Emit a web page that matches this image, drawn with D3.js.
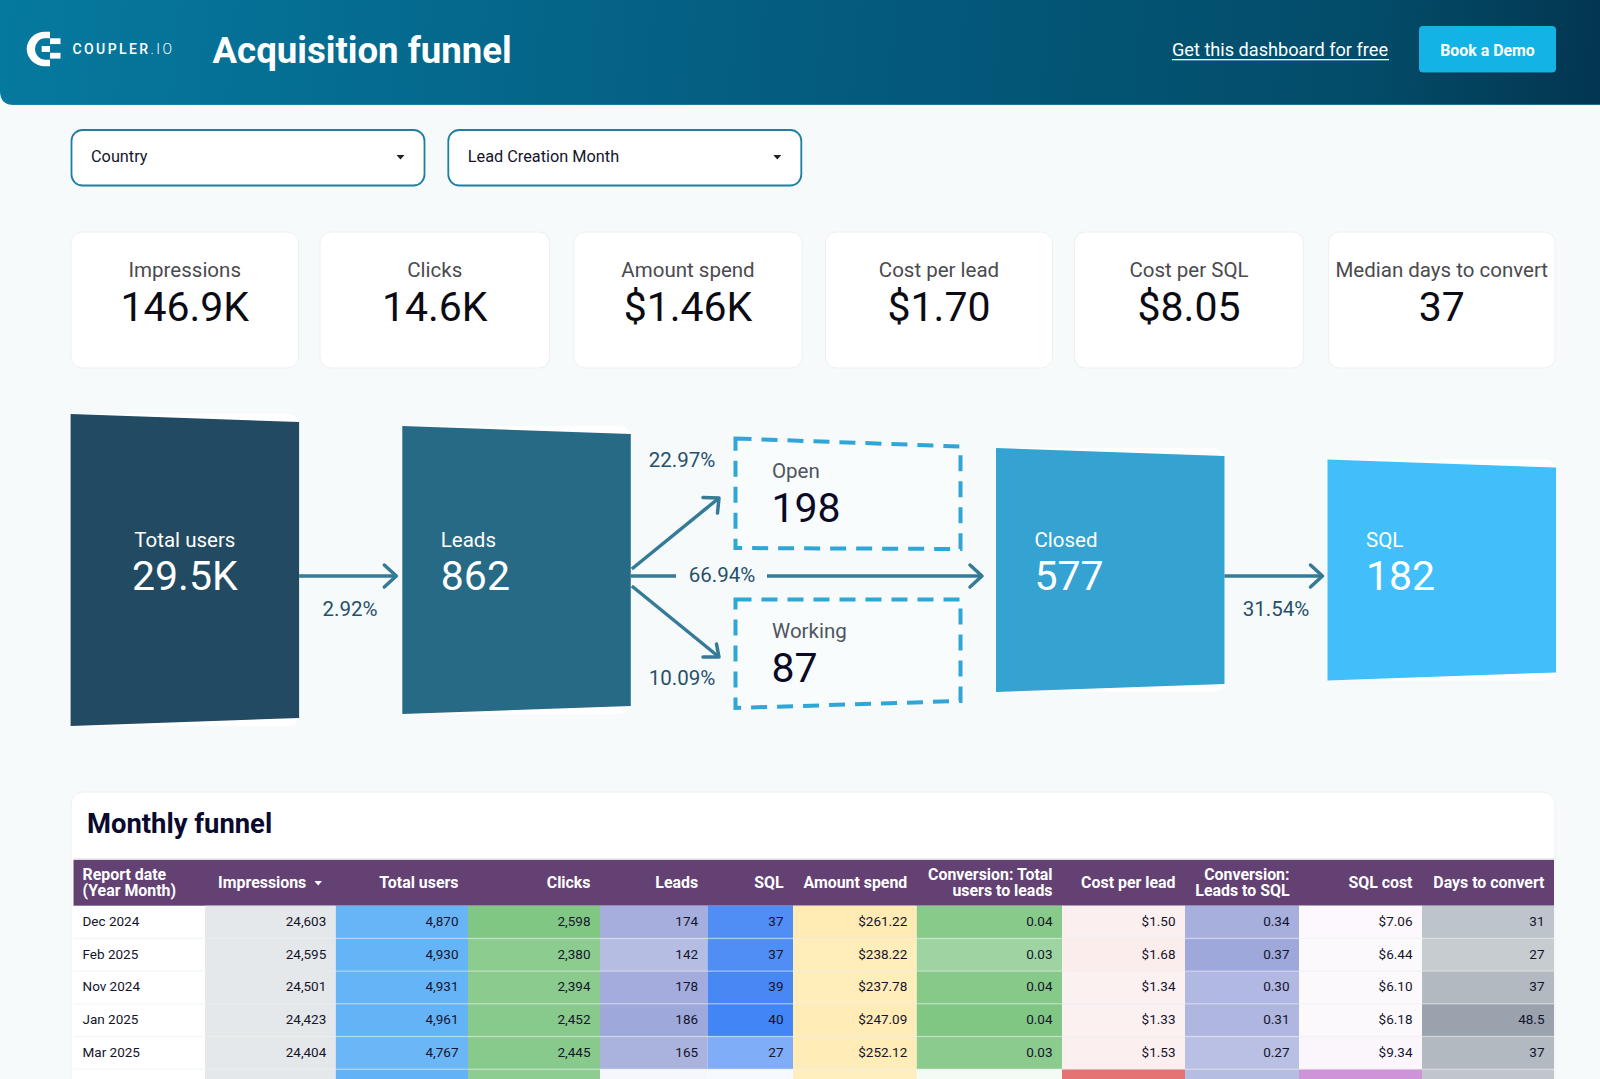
<!DOCTYPE html>
<html>
<head>
<meta charset="utf-8">
<title>Acquisition funnel</title>
<script src="https://cdn.jsdelivr.net/npm/d3@7"></script>
<style>
    html, body { margin: 0; padding: 0; background: #f7fafb; overflow: hidden; }
    svg { display: block; font-family: Roboto, sans-serif; }
</style>
</head>
<body>
<div id="chart"></div>
<script>
// KPI cards
var kpiLabels = ["Impressions", "Clicks", "Amount spend", "Cost per lead", "Cost per SQL", "Median days to convert"];
var kpiValues = ["146.9K", "14.6K", "$1.46K", "$1.70", "$8.05", "37"];

// funnel
var stageNames = ["Total users", "Leads", "Closed", "SQL"];
var stageValues = ["29.5K", "862", "577", "182"];
var branchNames = ["Open", "Working"];
var branchValues = ["198", "87"];
var stepRates = ["2.92%", "31.54%"];
var branchRates = ["22.97%", "66.94%", "10.09%"];

// monthly table, the last row only shows its cell colours at the page edge
var reportDates = ["Dec 2024", "Feb 2025", "Nov 2024", "Jan 2025", "Mar 2025", "Apr 2025"];
var impressions = [24603, 24595, 24501, 24423, 24404, 24374];
var totalUsers = [4870, 4930, 4931, 4961, 4767, 5041];
var clicks = [2598, 2380, 2394, 2452, 2445, 2331];
var leads = [174, 142, 178, 186, 165, 17];
var sql = [37, 37, 39, 40, 27, 2];
var amountSpend = [261.22, 238.22, 237.78, 247.09, 252.12, 223.2];
var convUsersLeads = [0.0357, 0.0288, 0.0361, 0.0375, 0.0346, 0.0034];
var costPerLead = [1.50, 1.68, 1.34, 1.33, 1.53, 13.13];
var convLeadsSql = [0.34, 0.37, 0.30, 0.31, 0.27, 0.28];
var sqlCost = [7.06, 6.44, 6.10, 6.18, 9.34, 111.6];
var daysToConvert = [31, 27, 37, 48.5, 37, 30];

var width = 1600, height = 1079;
var ink = "#14142b";

var svg = d3.select("#chart").append("svg")
    .attr("width", width)
    .attr("height", height)
    .attr("viewBox", "0 0 " + width + " " + height);

svg.append("rect").attr("width", width).attr("height", height).attr("fill", "#f7fafb");

var defs = svg.append("defs");
var grad = defs.append("linearGradient")
    .attr("id", "headerGrad")
    .attr("gradientUnits", "userSpaceOnUse")
    .attr("x1", 0).attr("y1", 0).attr("x2", 1600).attr("y2", 160);
grad.append("stop").attr("offset", 0).attr("stop-color", "#06799f");
grad.append("stop").attr("offset", 0.5).attr("stop-color", "#045c7f");
grad.append("stop").attr("offset", 0.85).attr("stop-color", "#034c69");
grad.append("stop").attr("offset", 1).attr("stop-color", "#03354f");

// generic text helper
function label(g, txt, x, y, size, fill, anchor, weight) {
    return g.append("text")
        .attr("x", x)
        .attr("y", y)
        .attr("font-size", size)
        .attr("fill", fill)
        .attr("text-anchor", anchor || "start")
        .attr("font-weight", weight || 400)
        .text(txt);
}

drawHeader();
drawFilters();
drawKpis();
drawFunnel();
drawTable();

function drawHeader() {
    var g = svg.append("g");
    g.append("path")
        .attr("d", "M0,0H1600V105H14Q0,105 0,91Z")
        .attr("fill", "url(#headerGrad)");
    g.append("path")
        .attr("d", "M14,104.5H1600")
        .attr("stroke", "#2b86a6")
        .attr("stroke-opacity", 0.7);

    // logo
    var logo = g.append("g").attr("fill", "#fff");
    logo.append("path")
        .attr("d", "M50,31.7H45A18.3,17.3 0 0 0 45,66.3H50V59.7H45A10,10.7 0 0 1 45,38.3H50Z");
    logo.append("rect").attr("x", 50).attr("y", 38.3).attr("width", 10.5).attr("height", 5.8);
    logo.append("rect").attr("x", 41.7).attr("y", 46).attr("width", 8.3).attr("height", 6);
    logo.append("rect").attr("x", 50).attr("y", 52.8).attr("width", 10.5).attr("height", 5.8);

    var word = label(g, "COUPLER", 72.5, 53.8, 14, "#fff", "start", 500)
        .attr("textLength", 99.5)
        .attr("lengthAdjust", "spacing");
    word.append("tspan").attr("font-weight", 300).text(".IO");

    label(g, "Acquisition funnel", 212.5, 62.5, 36.6, "#fff", "start", 700);

    label(g, "Get this dashboard for free", 1172, 56, 18.15, "#fff");
    g.append("rect").attr("x", 1172).attr("y", 59).attr("width", 217).attr("height", 1.3).attr("fill", "#fff");

    g.append("rect")
        .attr("x", 1419).attr("y", 27.5).attr("width", 137).attr("height", 46.5)
        .attr("rx", 4)
        .attr("fill", "#02283c")
        .attr("fill-opacity", 0.35);
    g.append("rect")
        .attr("x", 1419).attr("y", 26).attr("width", 137).attr("height", 46.5)
        .attr("rx", 4)
        .attr("fill", "#14b3e6");
    label(g, "Book a Demo", 1487.5, 55.5, 15.9, "#fff", "middle", 700);
}

function drawFilters() {
    var filters = ["Country", "Lead Creation Month"];
    var x = d3.scaleOrdinal().domain(filters).range([71.5, 448.3]);
    var g = svg.append("g");
    filters.forEach(function(f) {
        g.append("rect")
            .attr("x", x(f)).attr("y", 130).attr("width", 353).attr("height", 55.5)
            .attr("rx", 11)
            .attr("fill", "#fff")
            .attr("stroke", "#1f7fa3")
            .attr("stroke-width", 1.8);
        label(g, f, x(f) + 19.5, 162, 16.3, ink);
        var cx = x(f) + 329;
        g.append("path")
            .attr("d", d3.line()([[cx - 4, 155], [cx + 4, 155], [cx, 159.5]]) + "Z")
            .attr("fill", "#222");
    });
}

function drawKpis() {
    var left = d3.scaleOrdinal().domain(kpiLabels).range([71, 320, 574, 825.5, 1074.5, 1328.5]);
    var right = d3.scaleOrdinal().domain(kpiLabels).range([298.5, 549.5, 802, 1052.5, 1303.5, 1555]);

    var card = svg.append("g").selectAll("g")
        .data(kpiLabels)
        .enter().append("g");

    card.append("rect")
        .attr("x", function(d) { return left(d); })
        .attr("y", 232)
        .attr("width", function(d) { return right(d) - left(d); })
        .attr("height", 136)
        .attr("rx", 11)
        .attr("fill", "#fff")
        .attr("stroke", "#edf0f2");

    card.append("text")
        .attr("x", function(d) { return (left(d) + right(d)) / 2; })
        .attr("y", 277)
        .attr("text-anchor", "middle")
        .attr("font-size", 20.5)
        .attr("fill", "#4a4a4f")
        .text(function(d) { return d; });

    card.append("text")
        .attr("x", function(d) { return (left(d) + right(d)) / 2; })
        .attr("y", 321)
        .attr("text-anchor", "middle")
        .attr("font-size", 41)
        .attr("fill", "#0b0b14")
        .text(function(d, i) { return kpiValues[i]; });
}

function drawFunnel() {
    var g = svg.append("g");
    var midY = 570;
    var arrowY = 576;
    var arrowColor = "#357a96";
    var rateColor = "#26506a";

    var x0 = d3.scaleOrdinal().domain(stageNames).range([70.6, 402.3, 996, 1327.5]);
    var boxWidth = 228.5;
    var tall = d3.scaleOrdinal().domain(stageNames).range([312, 288, 244, 221]);
    var fill = d3.scaleOrdinal().domain(stageNames).range(["#224b63", "#276a86", "#34a3d2", "#40bffa"]);
    var slant = 8;
    var poly = d3.line();

    var stage = g.selectAll("g.stage")
        .data(stageNames)
        .enter().append("g")
        .attr("class", "stage");

    stage.append("rect")
        .attr("x", function(d) { return x0(d); })
        .attr("y", function(d) { return midY - tall(d) / 2; })
        .attr("width", boxWidth)
        .attr("height", function(d) { return tall(d); })
        .attr("rx", 12)
        .attr("fill", "#fff");

    stage.append("path")
        .attr("d", function(d) {
            var h = tall(d) / 2, l = x0(d), r = l + boxWidth;
            return poly([[l, midY - h], [r, midY - h + slant], [r, midY + h - slant], [l, midY + h]]) + "Z";
        })
        .attr("fill", function(d) { return fill(d); });

    // first stage is centred, the rest sit on a left inset
    stage.append("text")
        .attr("x", function(d, i) { return i == 0 ? x0(d) + boxWidth / 2 : x0(d) + 38.5; })
        .attr("y", 547)
        .attr("text-anchor", function(d, i) { return i == 0 ? "middle" : "start"; })
        .attr("font-size", 20.5)
        .attr("fill", "#fff")
        .text(function(d) { return d; });

    stage.append("text")
        .attr("x", function(d, i) { return i == 0 ? x0(d) + boxWidth / 2 : x0(d) + 38.5; })
        .attr("y", 590)
        .attr("text-anchor", function(d, i) { return i == 0 ? "middle" : "start"; })
        .attr("font-size", 41)
        .attr("fill", "#fff")
        .text(function(d, i) { return stageValues[i]; });

    // dashed branch boxes
    var branchLeft = 735.5, branchRight = 960.5;
    var branchCorners = d3.scaleOrdinal().domain(branchNames).range([
        [[branchLeft, 438.5], [branchRight, 446.5], [branchRight, 549], [branchLeft, 548]],
        [[branchLeft, 599.5], [branchRight, 599.5], [branchRight, 701], [branchLeft, 708]]
    ]);
    var nameY = d3.scaleOrdinal().domain(branchNames).range([478, 638]);
    var valueY = d3.scaleOrdinal().domain(branchNames).range([522, 682]);

    branchNames.forEach(function(b, i) {
        g.append("path")
            .attr("d", poly(branchCorners(b)) + "Z")
            .attr("fill", "#f9fcfd")
            .attr("stroke", "#2fa6d6")
            .attr("stroke-width", 4)
            .attr("stroke-dasharray", "16 10");
        label(g, b, branchLeft + 36.5, nameY(b), 20.5, "#4f5560");
        label(g, branchValues[i], branchLeft + 36, valueY(b), 41, "#0a0a26");
    });

    // arrows
    function arrow(pts, head) {
        g.append("path")
            .attr("d", poly(pts))
            .attr("fill", "none")
            .attr("stroke", arrowColor)
            .attr("stroke-width", 3.5);
        if (!head) return;
        g.append("path")
            .attr("d", poly(head))
            .attr("fill", "none")
            .attr("stroke", arrowColor)
            .attr("stroke-width", 3.5)
            .attr("stroke-linecap", "round")
            .attr("stroke-linejoin", "round");
    }
    var end0 = x0("Leads") - 6, start0 = x0("Total users") + boxWidth;
    arrow([[start0, arrowY], [end0, arrowY]], [[end0 - 12, arrowY - 11], [end0, arrowY], [end0 - 12, arrowY + 11]]);
    var end1 = x0("SQL") - 5, start1 = x0("Closed") + boxWidth;
    arrow([[start1, arrowY], [end1, arrowY]], [[end1 - 12, arrowY - 11], [end1, arrowY], [end1 - 12, arrowY + 11]]);

    var branchStart = x0("Leads") + boxWidth + 1;
    arrow([[branchStart, 569], [719, 498]], [[703, 497.5], [719, 498], [717.5, 513]]);
    arrow([[branchStart, 586], [719, 657]], [[703, 657], [719, 657], [716.5, 644]]);
    arrow([[branchStart - 1, arrowY], [676, arrowY]]);
    var end2 = x0("Closed") - 14;
    arrow([[767, arrowY], [end2, arrowY]], [[end2 - 12, arrowY - 11], [end2, arrowY], [end2 - 12, arrowY + 11]]);

    // rates
    label(g, stepRates[0], 350, 616, 20.5, rateColor, "middle");
    label(g, stepRates[1], 1276, 616, 20.5, rateColor, "middle");
    label(g, branchRates[0], 682, 467, 20.5, rateColor, "middle");
    label(g, branchRates[1], 722, 582, 20.5, rateColor, "middle");
    label(g, branchRates[2], 682, 685, 20.5, rateColor, "middle");
}

function drawTable() {
    var g = svg.append("g");

    g.append("rect")
        .attr("x", 71).attr("y", 792).attr("width", 1484).attr("height", 320)
        .attr("rx", 12)
        .attr("fill", "#fff")
        .attr("stroke", "#edf0f2");

    label(g, "Monthly funnel", 87, 833, 27.4, "#0a0a2e", "start", 700);

    var money = d3.format("$.2f"), two = d3.format(".2f"), comma = d3.format(",");

    var columns = [
        { head: ["Impressions"], values: impressions, color: "#e5e8ea", fmt: comma },
        { head: ["Total users"], values: totalUsers, color: "#62b2f7", fmt: comma },
        { head: ["Clicks"], values: clicks, color: "#81c784", fmt: comma },
        { head: ["Leads"], values: leads, color: "#9fa8da", fmt: comma },
        { head: ["SQL"], values: sql, color: "#4285f4", fmt: comma },
        { head: ["Amount spend"], values: amountSpend, color: "#ffebb3", fmt: money },
        { head: ["Conversion: Total", "users to leads"], values: convUsersLeads, color: "#81c784", fmt: two },
        { head: ["Cost per lead"], values: costPerLead, color: "#e57373", fmt: money },
        { head: ["Conversion:", "Leads to SQL"], values: convLeadsSql, color: "#9fa8da", fmt: two },
        { head: ["SQL cost"], values: sqlCost, color: "#ce93d8", fmt: money },
        { head: ["Days to convert"], values: daysToConvert, color: "#9aa3ad", fmt: d3.format("~g") }
    ];

    var tableLeft = 73.5, tableRight = 1554, headTop = 860, headBottom = 905.7;
    var edges = [205, 335.8, 468, 600, 707.6, 793, 916.8, 1062, 1185, 1299, 1422, tableRight];
    var pad = 9.5;
    var headSize = 15.9;

    var y = d3.scaleBand()
        .domain(reportDates)
        .range([headBottom, headBottom + 32.7 * reportDates.length]);

    // the last row falls below the fold, so only its cell colours are drawn
    var textRows = reportDates.length - 1;
    function rowText(i) { return y(reportDates[i]) + y.bandwidth() / 2 + 3.8; }

    // header
    g.append("rect")
        .attr("x", tableLeft).attr("y", headTop - 1.5)
        .attr("width", tableRight - tableLeft).attr("height", 1.5)
        .attr("fill", "#dcdce2");
    g.append("rect")
        .attr("x", tableLeft).attr("y", headTop)
        .attr("width", tableRight - tableLeft).attr("height", headBottom - headTop)
        .attr("fill", "#634172");

    label(g, "Report date", 82.5, 879.5, headSize, "#fff", "start", 700);
    label(g, "(Year Month)", 82.5, 895.5, headSize, "#fff", "start", 700);

    columns.forEach(function(col, c) {
        var x0 = edges[c], x1 = edges[c + 1];
        var textRight = x1 - pad - (c == 0 ? 20 : 0);
        if (col.head.length == 1) {
            label(g, col.head[0], textRight, 887.5, headSize, "#fff", "end", 700);
        } else {
            label(g, col.head[0], textRight, 879.5, headSize, "#fff", "end", 700);
            label(g, col.head[1], textRight, 895.5, headSize, "#fff", "end", 700);
        }

        var color = d3.scaleLinear()
            .domain([0, d3.max(col.values)])
            .range(["#ffffff", col.color]);

        g.selectAll("rect.c" + c)
            .data(col.values)
            .enter().append("rect")
            .attr("class", "c" + c)
            .attr("x", x0)
            .attr("y", function(d, i) { return y(reportDates[i]); })
            .attr("width", x1 - x0)
            .attr("height", y.bandwidth())
            .attr("fill", function(d) { return color(d); });

        g.selectAll("text.c" + c)
            .data(col.values.slice(0, textRows))
            .enter().append("text")
            .attr("class", "c" + c)
            .attr("x", x1 - pad)
            .attr("y", function(d, i) { return rowText(i); })
            .attr("text-anchor", "end")
            .attr("font-size", 13.5)
            .attr("fill", ink)
            .text(function(d) { return col.fmt(d); });
    });

    // sort caret next to Impressions
    g.append("path")
        .attr("d", d3.line()([[314.5, 881], [322, 881], [318.2, 885.5]]) + "Z")
        .attr("fill", "#fff");

    // first column and row rules
    g.selectAll("text.date")
        .data(reportDates.slice(0, textRows))
        .enter().append("text")
        .attr("class", "date")
        .attr("x", 82.5)
        .attr("y", function(d, i) { return rowText(i); })
        .attr("font-size", 13.5)
        .attr("fill", ink)
        .text(function(d) { return d; });

    g.selectAll("rect.rule")
        .data(reportDates.slice(1))
        .enter().append("rect")
        .attr("class", "rule")
        .attr("x", tableLeft)
        .attr("y", function(d) { return y(d) - 0.7; })
        .attr("width", tableRight - tableLeft)
        .attr("height", 1.4)
        .attr("fill", "#e8ebee")
        .attr("fill-opacity", 0.45);
}
</script>
</body>
</html>
